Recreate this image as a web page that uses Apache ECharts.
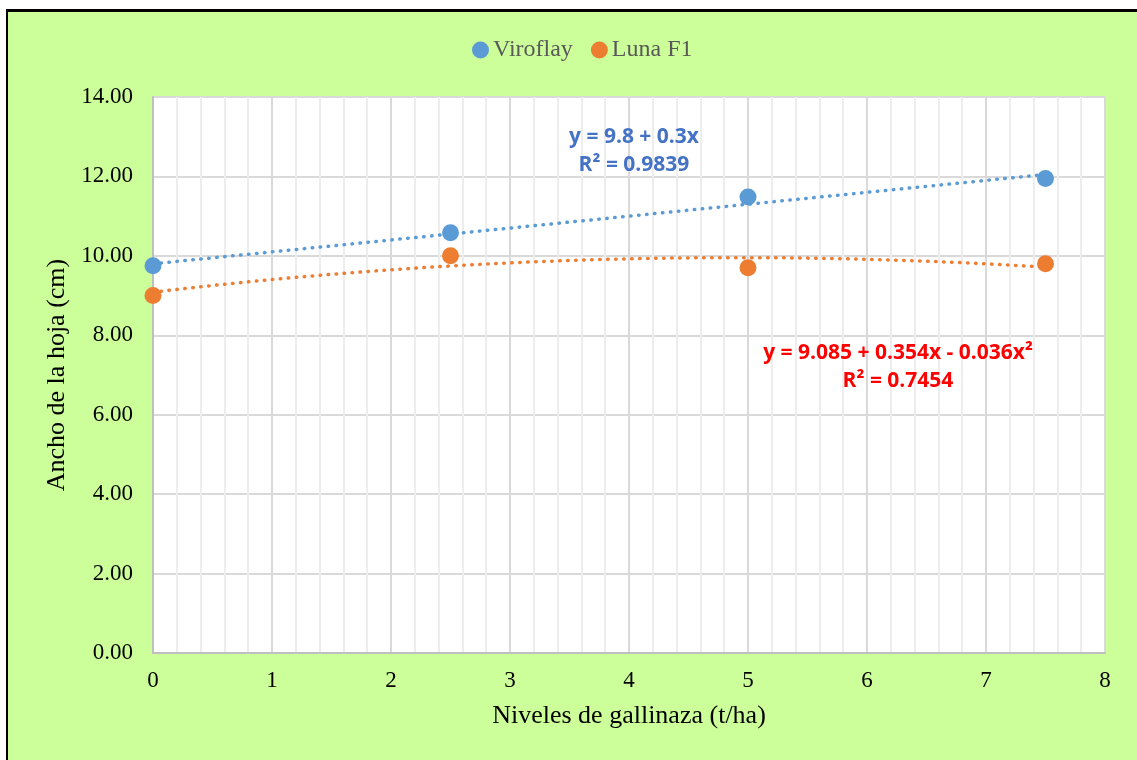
<!DOCTYPE html>
<html>
<head>
<meta charset="utf-8">
<script src="https://cdn.jsdelivr.net/npm/echarts@6/dist/echarts.min.js"></script>
<style>
html,body{margin:0;padding:0;background:#fff;width:1137px;height:760px;overflow:hidden;}
#frame{position:absolute;left:6px;top:9px;width:1200px;height:800px;background:#CCFF99;border-left:2px solid #000;border-top:3px solid #000;box-sizing:border-box;}
#chart{position:absolute;left:0;top:0;width:1137px;height:760px;}
</style>
</head>
<body>
<div id="frame"></div>
<div id="chart"></div>
<script>
// Data
const levels = [0, 2.5, 5, 7.5];
const viroflay = [9.75, 10.58, 11.48, 11.95];
const lunaF1 = [9.0, 10.0, 9.70, 9.80];
const seriesNames = ['Viroflay', 'Luna F1'];
// Trendline coefficients as printed on the chart
const viroflayFit = [9.8, 0.3];          // y = a + b x
const lunaFit = [9.085, 0.354, -0.036];   // y = a + b x + c x^2
const viroflayEq = ['y = 9.8 + 0.3x', 'R² = 0.9839'];
const lunaEq = ['y = 9.085 + 0.354x - 0.036x²', 'R² = 0.7454'];
const yTicks = [0, 2, 4, 6, 8, 10, 12, 14];

function poly(c, x) { let s = 0; for (let i = c.length - 1; i >= 0; i--) s = s * x + c[i]; return s; }
function trend(c) {
  const out = [];
  const x0 = levels[0], x1 = levels[levels.length - 1];
  for (let i = 0; i <= 75; i++) { const x = x0 + (x1 - x0) * i / 75; out.push([x, poly(c, x)]); }
  return out;
}

const chart = echarts.init(document.getElementById('chart'), null, {renderer: 'canvas'});
const serif = '"Liberation Serif", "Times New Roman", serif';
const eqFont = '"Open Sans", "Liberation Sans", sans-serif';
chart.setOption({
  backgroundColor: 'transparent',
  animation: false,
  legend: {
    data: seriesNames,
    top: 33,
    left: 467,
    icon: 'circle',
    itemWidth: 17, itemHeight: 17, itemGap: 18,
    itemStyle: {opacity: 1},
    textStyle: {fontFamily: serif, fontSize: 24, color: '#595959', padding: [0, 0, 0, -1]}
  },
  grid: {left: 153, right: 32, top: 97, bottom: 107, show: true, backgroundColor: '#fff', borderColor: '#d0d0d0', borderWidth: 1},
  xAxis: {
    type: 'value', min: 0, max: 8, interval: 1,
    name: 'Niveles de gallinaza (t/ha)', nameLocation: 'middle', nameGap: 50,
    nameTextStyle: {fontFamily: serif, fontSize: 26, color: '#000'},
    axisLine: {show: true, lineStyle: {color: '#bfbfbf', width: 2}},
    axisTick: {show: false},
    axisLabel: {fontFamily: serif, fontSize: 23, color: '#000', margin: 16},
    splitLine: {show: true, lineStyle: {color: '#d9d9d9', width: 2}},
    minorTick: {show: false, splitNumber: 5},
    minorSplitLine: {show: true, lineStyle: {color: '#ededed', width: 2}}
  },
  yAxis: {
    type: 'value', min: 0, max: 14, interval: 2,
    name: 'Ancho de la hoja (cm)', nameLocation: 'middle', nameGap: 82,
    nameTextStyle: {fontFamily: serif, fontSize: 26, color: '#000'},
    axisLine: {show: true, lineStyle: {color: '#bfbfbf', width: 2}},
    axisTick: {show: false},
    axisLabel: {fontFamily: serif, fontSize: 23, color: '#000', margin: 20, formatter: v => yTicks.includes(v) ? v.toFixed(2) : ''},
    splitLine: {show: true, lineStyle: {color: '#d9d9d9', width: 2}}
  },
  series: [
    {name: 'Viroflay trend', type: 'line', data: trend(viroflayFit), showSymbol: false, symbol: 'none', silent: true, z: 3,
     lineStyle: {color: '#5B9BD5', width: 3.5, type: [0.5, 7.5], cap: 'round'}},
    {name: 'Luna F1 trend', type: 'line', data: trend(lunaFit), showSymbol: false, symbol: 'none', silent: true, z: 3,
     lineStyle: {color: '#ED7D31', width: 3.5, type: [0.5, 7.5], cap: 'round'}},
    {name: seriesNames[0], type: 'scatter', data: levels.map((x, i) => [x, viroflay[i]]), symbolSize: 17, z: 5,
     itemStyle: {color: '#5B9BD5', opacity: 1}},
    {name: seriesNames[1], type: 'scatter', data: levels.map((x, i) => [x, lunaF1[i]]), symbolSize: 17, z: 5,
     itemStyle: {color: '#ED7D31', opacity: 1}}
  ],
  graphic: [
    {type: 'text', x: 634, y: 137, style: {text: viroflayEq[0], fill: '#4472C4', font: 'bold 21px ' + eqFont, align: 'center', verticalAlign: 'middle'}, z: 10},
    {type: 'text', x: 634, y: 165, style: {text: viroflayEq[1], fill: '#4472C4', font: 'bold 21px ' + eqFont, align: 'center', verticalAlign: 'middle'}, z: 10},
    {type: 'text', x: 898, y: 353, style: {text: lunaEq[0], fill: '#FF0000', font: 'bold 21px ' + eqFont, align: 'center', verticalAlign: 'middle'}, z: 10},
    {type: 'text', x: 898, y: 381, style: {text: lunaEq[1], fill: '#FF0000', font: 'bold 21px ' + eqFont, align: 'center', verticalAlign: 'middle'}, z: 10}
  ]
});
</script>
</body>
</html>
